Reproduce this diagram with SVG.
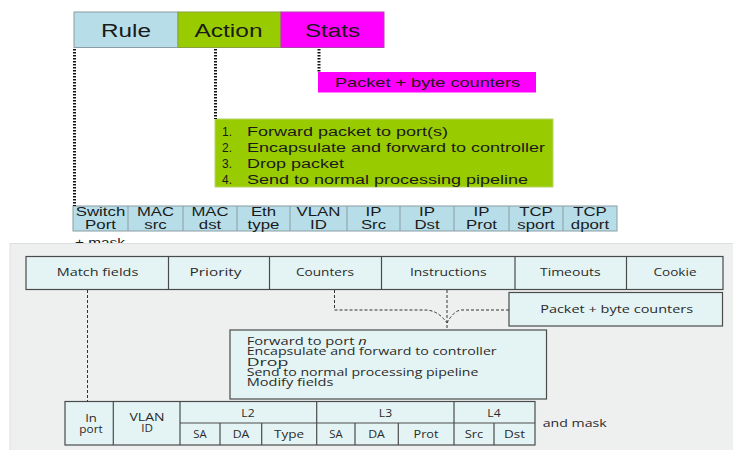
<svg xmlns="http://www.w3.org/2000/svg" width="733" height="450" viewBox="0 0 733 450">
<style>
.t{font-family:"Liberation Sans",Arial,sans-serif;fill:#1a1a1a}
.b{font-family:"Open Sans","Noto Sans",sans-serif;fill:#2b2b2b}
.c{text-anchor:middle}
.hdr{font-size:18px}
.cell{font-size:12px}
.blue{fill:#b7dde8;stroke:#8a9ea4;stroke-width:1}
.green{fill:#99cc00;stroke:#8aa040;stroke-width:1}
.mag{fill:#ff00ff;stroke:#b040b0;stroke-width:1}
.bx{fill:#e4f4f4;stroke:#4a4a4a;stroke-width:1.2}
.dot{stroke:#111;stroke-width:3;stroke-dasharray:1.5 1.5;fill:none}
.dash{stroke:#333;stroke-width:1;stroke-dasharray:3 2;fill:none}
.bs{font-size:11.5px}
.ts{font-size:10.5px}
.as{font-size:10px}
</style>
<rect width="733" height="450" fill="#ffffff"/>

<!-- top: flow entry header -->
<g id="rule">
<rect class="blue" x="74" y="12" width="104" height="35.5"/>
<text class="t hdr c" x="126" y="37" textLength="50" lengthAdjust="spacingAndGlyphs">Rule</text>
</g>
<g id="action">
<rect class="green" x="178" y="12" width="103" height="35.5"/>
<text class="t hdr c" x="228.5" y="37" textLength="68" lengthAdjust="spacingAndGlyphs">Action</text>
</g>
<g id="stats">
<rect class="mag" x="281" y="12" width="103" height="35.5"/>
<text class="t hdr c" x="332.5" y="37" textLength="55" lengthAdjust="spacingAndGlyphs">Stats</text>
</g>
<g id="stats-counters">
<rect x="318" y="72" width="218" height="20.5" fill="#ff00ff"/>
<text class="t c" font-size="13.5" x="427.5" y="87" textLength="185" lengthAdjust="spacingAndGlyphs">Packet + byte counters</text>
</g>
<g id="action-list">
<rect x="215" y="119" width="338" height="68" fill="#99cc00" stroke="#b5d46a" stroke-width="1"/>
<g class="t" font-size="12.5">
<text x="222" y="136" textLength="10" lengthAdjust="spacingAndGlyphs">1.</text>
<text x="222" y="152" textLength="10" lengthAdjust="spacingAndGlyphs">2.</text>
<text x="222" y="168" textLength="10" lengthAdjust="spacingAndGlyphs">3.</text>
<text x="222" y="184" textLength="10" lengthAdjust="spacingAndGlyphs">4.</text>
<text x="247" y="136" textLength="201" lengthAdjust="spacingAndGlyphs">Forward packet to port(s)</text>
<text x="247" y="152" textLength="298" lengthAdjust="spacingAndGlyphs">Encapsulate and forward to controller</text>
<text x="247" y="168" textLength="97" lengthAdjust="spacingAndGlyphs">Drop packet</text>
<text x="247" y="184" textLength="281" lengthAdjust="spacingAndGlyphs">Send to normal processing pipeline</text>
</g>
</g>
<g id="rule-fields">
<rect class="blue" x="73" y="206" width="544" height="25"/>
<g stroke="#8a9ea4" stroke-width="1">
<line x1="128" y1="206" x2="128" y2="231"/><line x1="183" y1="206" x2="183" y2="231"/>
<line x1="237" y1="206" x2="237" y2="231"/><line x1="290" y1="206" x2="290" y2="231"/>
<line x1="347" y1="206" x2="347" y2="231"/><line x1="400" y1="206" x2="400" y2="231"/>
<line x1="454" y1="206" x2="454" y2="231"/><line x1="509" y1="206" x2="509" y2="231"/>
<line x1="563" y1="206" x2="563" y2="231"/>
</g>
<g class="t cell c">
<text x="100.5" y="216" textLength="49.5" lengthAdjust="spacingAndGlyphs">Switch</text>
<text x="100.5" y="228.5" textLength="30.8" lengthAdjust="spacingAndGlyphs">Port</text>
<text x="155.5" y="216" textLength="37" lengthAdjust="spacingAndGlyphs">MAC</text>
<text x="155.5" y="228.5" textLength="22.4" lengthAdjust="spacingAndGlyphs">src</text>
<text x="210" y="216" textLength="37" lengthAdjust="spacingAndGlyphs">MAC</text>
<text x="210" y="228.5" textLength="22.4" lengthAdjust="spacingAndGlyphs">dst</text>
<text x="263.5" y="216" textLength="25.2" lengthAdjust="spacingAndGlyphs">Eth</text>
<text x="263.5" y="228.5" textLength="31.8" lengthAdjust="spacingAndGlyphs">type</text>
<text x="318.5" y="216" textLength="44" lengthAdjust="spacingAndGlyphs">VLAN</text>
<text x="318.5" y="228.5" textLength="16.8" lengthAdjust="spacingAndGlyphs">ID</text>
<text x="373.5" y="216" textLength="15.9" lengthAdjust="spacingAndGlyphs">IP</text>
<text x="373.5" y="228.5" textLength="25.2" lengthAdjust="spacingAndGlyphs">Src</text>
<text x="427" y="216" textLength="15.9" lengthAdjust="spacingAndGlyphs">IP</text>
<text x="427" y="228.5" textLength="25.2" lengthAdjust="spacingAndGlyphs">Dst</text>
<text x="481.5" y="216" textLength="15.9" lengthAdjust="spacingAndGlyphs">IP</text>
<text x="481.5" y="228.5" textLength="30.8" lengthAdjust="spacingAndGlyphs">Prot</text>
<text x="536" y="216" textLength="33.6" lengthAdjust="spacingAndGlyphs">TCP</text>
<text x="536" y="228.5" textLength="37.3" lengthAdjust="spacingAndGlyphs">sport</text>
<text x="590" y="216" textLength="33.6" lengthAdjust="spacingAndGlyphs">TCP</text>
<text x="590" y="228.5" textLength="38.3" lengthAdjust="spacingAndGlyphs">dport</text>
</g>
<text class="t cell" x="75" y="246.5" textLength="50" lengthAdjust="spacingAndGlyphs">+ mask</text>
</g>

<!-- bottom panel -->
<rect x="10" y="243.5" width="724" height="207" fill="#eef0f0" stroke="#dde0e0" stroke-width="1"/>

<g id="header-row">
<rect class="bx" x="26" y="256.5" width="697" height="33"/>
<g stroke="#4a4a4a" stroke-width="1.2">
<line x1="168.5" y1="256.5" x2="168.5" y2="289.5"/>
<line x1="269.5" y1="256.5" x2="269.5" y2="289.5"/>
<line x1="381.5" y1="256.5" x2="381.5" y2="289.5"/>
<line x1="515" y1="256.5" x2="515" y2="289.5"/>
<line x1="626.5" y1="256.5" x2="626.5" y2="289.5"/>
</g>
<g class="b bs c">
<text x="97.5" y="276" textLength="81.6" lengthAdjust="spacingAndGlyphs">Match fields</text>
<text x="215.5" y="276" textLength="52" lengthAdjust="spacingAndGlyphs">Priority</text>
<text x="325" y="276" textLength="58" lengthAdjust="spacingAndGlyphs">Counters</text>
<text x="448.3" y="276" textLength="76.7" lengthAdjust="spacingAndGlyphs">Instructions</text>
<text x="570.3" y="276" textLength="60.7" lengthAdjust="spacingAndGlyphs">Timeouts</text>
<text x="675" y="276" textLength="43" lengthAdjust="spacingAndGlyphs">Cookie</text>
</g>
</g>
<g id="counters-box">
<rect class="bx" x="509" y="292.5" width="213.5" height="33.5"/>
<text class="b bs c" x="616.7" y="313" textLength="153" lengthAdjust="spacingAndGlyphs">Packet + byte counters</text>
</g>
<g id="instructions-box">
<rect class="bx" x="230" y="330" width="316.5" height="69"/>
<g class="b as">
<text x="246.7" y="345" textLength="120" lengthAdjust="spacingAndGlyphs">Forward to port <tspan font-style="italic">n</tspan></text>
<text x="246.7" y="355.3" textLength="250" lengthAdjust="spacingAndGlyphs">Encapsulate and forward to controller</text>
<text x="246.7" y="365.5" textLength="41.7" lengthAdjust="spacingAndGlyphs">Drop</text>
<text x="246.7" y="375.5" textLength="231.7" lengthAdjust="spacingAndGlyphs">Send to normal processing pipeline</text>
<text x="246.7" y="385.5" textLength="86.7" lengthAdjust="spacingAndGlyphs">Modify fields</text>
</g>
</g>
<g id="match-table">
<rect class="bx" x="65" y="401.5" width="470" height="43.5"/>
<g stroke="#4a4a4a" stroke-width="1.2">
<line x1="113.3" y1="401.5" x2="113.3" y2="445"/>
<line x1="180" y1="401.5" x2="180" y2="445"/>
<line x1="316.7" y1="401.5" x2="316.7" y2="445"/>
<line x1="454" y1="401.5" x2="454" y2="445"/>
<line x1="180" y1="423" x2="535" y2="423"/>
<line x1="220" y1="423" x2="220" y2="445"/>
<line x1="261.7" y1="423" x2="261.7" y2="445"/>
<line x1="355" y1="423" x2="355" y2="445"/>
<line x1="398.3" y1="423" x2="398.3" y2="445"/>
<line x1="494" y1="423" x2="494" y2="445"/>
</g>
<g class="b ts c">
<text x="91" y="422" textLength="11.7" lengthAdjust="spacingAndGlyphs">In</text>
<text x="91" y="433" textLength="23.3" lengthAdjust="spacingAndGlyphs">port</text>
<text x="147" y="421" textLength="35" lengthAdjust="spacingAndGlyphs">VLAN</text>
<text x="147" y="431.5" textLength="11.7" lengthAdjust="spacingAndGlyphs">ID</text>
</g>
<g class="b bs c">
<text x="248" y="416.5" textLength="13.3" lengthAdjust="spacingAndGlyphs">L2</text>
<text x="200" y="438" textLength="13.3" lengthAdjust="spacingAndGlyphs">SA</text>
<text x="241" y="438" textLength="16.7" lengthAdjust="spacingAndGlyphs">DA</text>
<text x="289" y="438" textLength="30" lengthAdjust="spacingAndGlyphs">Type</text>
<text x="385.5" y="416.5" textLength="13.3" lengthAdjust="spacingAndGlyphs">L3</text>
<text x="336" y="438" textLength="13.3" lengthAdjust="spacingAndGlyphs">SA</text>
<text x="376.5" y="438" textLength="16.7" lengthAdjust="spacingAndGlyphs">DA</text>
<text x="426" y="438" textLength="25" lengthAdjust="spacingAndGlyphs">Prot</text>
<text x="494" y="416.5" textLength="13.3" lengthAdjust="spacingAndGlyphs">L4</text>
<text x="474" y="438" textLength="18.7" lengthAdjust="spacingAndGlyphs">Src</text>
<text x="514.5" y="438" textLength="21" lengthAdjust="spacingAndGlyphs">Dst</text>
</g>
<text class="b bs" x="542.7" y="426.5" textLength="64" lengthAdjust="spacingAndGlyphs">and mask</text>
</g>

<g id="connectors">
<line class="dot" x1="74.5" y1="49" x2="74.5" y2="206"/>
<line class="dot" x1="215.5" y1="49" x2="215.5" y2="119"/>
<line class="dot" x1="319" y1="49" x2="319" y2="72"/>
<line class="dash" x1="87.5" y1="290" x2="87.5" y2="401.5"/>
<path class="dash" d="M334.5 290 V310 H425 Q438 310 447 323"/>
<path class="dash" d="M509 310 H462 Q454 310 447 323"/>
<line class="dash" x1="447" y1="290" x2="447" y2="330"/>
</g>
</svg>
